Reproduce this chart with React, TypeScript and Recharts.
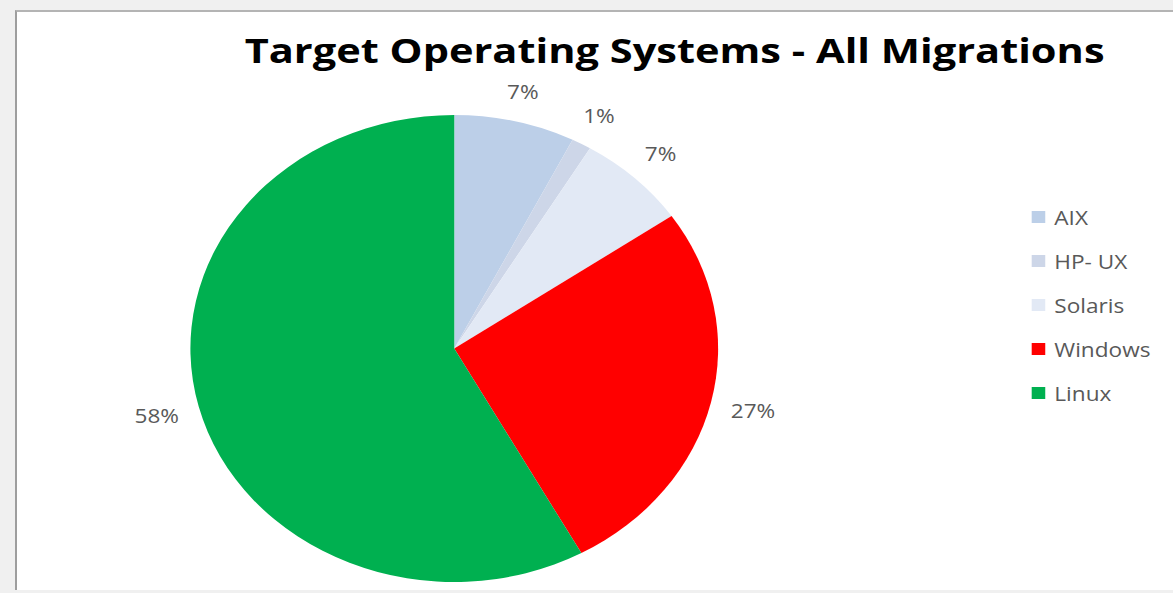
import React from 'react';
import { PieChart, Pie, Cell, Legend } from 'recharts';

// Slice data (percent of all migrations)
const osNames = ['AIX', 'HP- UX', 'Solaris', 'Windows', 'Linux'];
const osShares = [7.4, 1.2, 6.8, 26.6, 58.0];
const sliceColors = ['#bccfe8', '#cdd6e8', '#e2e9f5', '#ff0000', '#00b050'];

const chartTitle = 'Target Operating Systems - All Migrations';

const data = osNames.map((name, i) => ({ name, value: osShares[i] }));

// the reference image is stretched horizontally, so the chart is drawn narrow and scaled
const STRETCH = 1.13;
const RAD = Math.PI / 180;
const FONT = '"Open Sans", "DejaVu Sans", sans-serif';

function renderLabel(props: any) {
  const { cx, cy, midAngle, outerRadius, percent } = props;
  const text = `${Math.round(percent * 100)}%`;
  const ux = Math.cos(-midAngle * RAD);
  const uy = Math.sin(-midAngle * RAD);
  // keep the label box a fixed gap away from the edge, like Excel's "outside end"
  const w = text.length * 14;
  const h = 24;
  const r = outerRadius + 15 + Math.abs(ux) * (w / 2) + Math.abs(uy) * (h / 2);
  return (
    <text
      x={cx + r * ux}
      y={cy + r * uy}
      textAnchor="middle"
      dy="0.35em"
      fill="#595959"
      fontSize={20}
      fontFamily={FONT}
    >
      {text}
    </text>
  );
}

function renderLegend(props: any) {
  const items = [...(props.payload || [])].sort(
    (a: any, b: any) => osNames.indexOf(a.value) - osNames.indexOf(b.value)
  );
  return (
    <ul style={{ listStyle: 'none', margin: 0, padding: 0 }}>
      {items.map((entry: any, i: number) => {
        const idx = osNames.indexOf(entry.value);
        return (
          <li
            key={`leg-${i}`}
            style={{
              height: 44,
              display: 'flex',
              alignItems: 'center',
              whiteSpace: 'nowrap',
              fontFamily: FONT,
              fontSize: 20,
              color: '#595959',
            }}
          >
            <span
              style={{
                display: 'inline-block',
                width: 12,
                height: 12,
                marginRight: 8,
                background: idx >= 0 ? sliceColors[idx] : entry.color,
              }}
            />
            <span>{entry.value}</span>
          </li>
        );
      })}
    </ul>
  );
}

export default function App() {
  return (
    <div
      style={{
        position: 'absolute',
        left: 0,
        top: 0,
        width: 1173,
        height: 593,
        background: '#f0f0f0',
        overflow: 'hidden',
      }}
    >
      {/* white chart panel */}
      <div
        style={{
          position: 'absolute',
          left: 15,
          top: 10,
          width: 1180,
          height: 578,
          background: '#ffffff',
          borderLeft: '2px solid #9e9e9e',
          borderTop: '2px solid #b4b4b4',
        }}
      />
      <div
        style={{
          position: 'absolute',
          left: 0,
          top: 0,
          transform: `scaleX(${STRETCH})`,
          transformOrigin: '0 0',
        }}
      >
        <PieChart width={1038} height={593} margin={{ top: 0, right: 0, bottom: 0, left: 0 }}>
          <text
            x={597}
            y={63}
            textAnchor="middle"
            textLength={761}
            lengthAdjust="spacingAndGlyphs"
            fontSize={34}
            fontWeight={700}
            fontFamily={FONT}
            fill="#000000"
          >
            {chartTitle}
          </text>
          <Pie
            data={data}
            dataKey="value"
            nameKey="name"
            cx={402}
            cy={348.5}
            outerRadius={233.5}
            startAngle={90}
            endAngle={-270}
            stroke="none"
            label={renderLabel}
            labelLine={false}
            isAnimationActive={false}
          >
            {data.map((d, i) => (
              <Cell key={d.name} fill={sliceColors[i]} />
            ))}
          </Pie>
          <Legend
            layout="vertical"
            verticalAlign="middle"
            align="right"
            content={renderLegend}
            wrapperStyle={{ left: 913, top: 195, right: 'auto', width: 125 }}
          />
        </PieChart>
      </div>
    </div>
  );
}
